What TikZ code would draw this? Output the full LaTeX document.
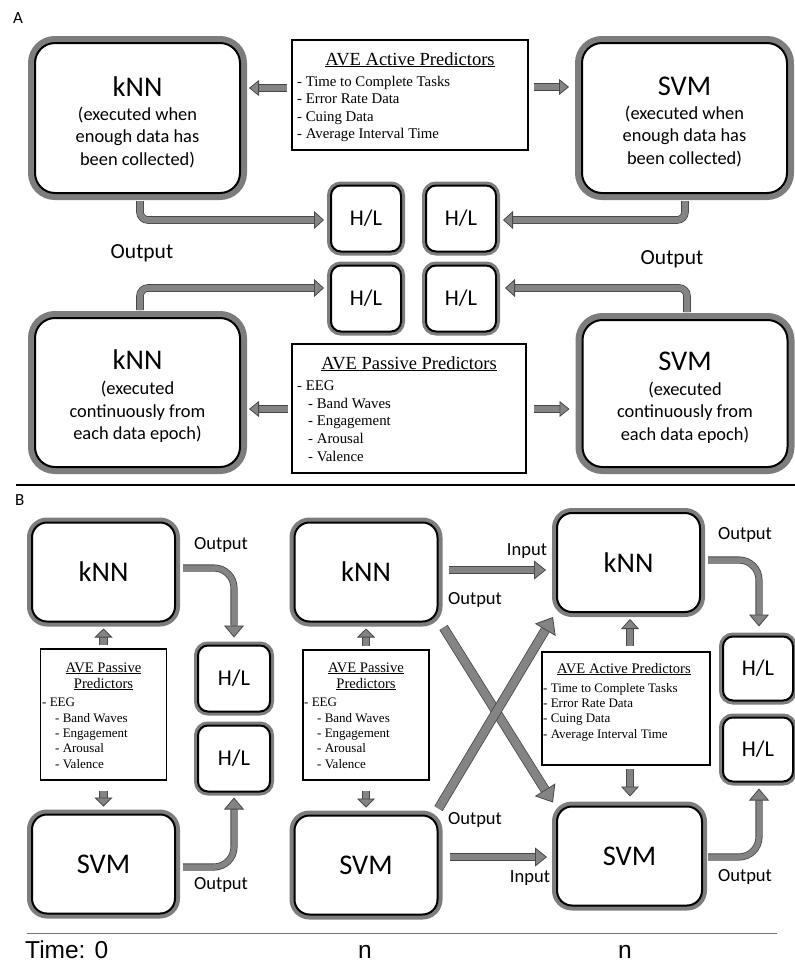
\documentclass[tikz,border=0pt]{standalone}
\usepackage{fontspec}
\setmainfont{Carlito}
\newfontfamily\timesf{Liberation Serif}
\newfontfamily\arialf{Liberation Sans}
\usetikzlibrary{arrows.meta,calc}
\definecolor{bandgray}{RGB}{125,125,125}
\definecolor{arrowfill}{RGB}{132,132,132}
\definecolor{arrowedge}{RGB}{72,72,72}
\begin{document}
\begin{tikzpicture}[x=1pt,y=-1pt,
  bigA/.style={draw=black, line width=2pt, fill=white, rounded corners=20pt,
    preaction={draw=bandgray, line width=14pt}, minimum width=205pt, minimum height=150pt, inner sep=0pt},
  bigB/.style={draw=black, line width=2pt, fill=white, rounded corners=15pt,
    preaction={draw=bandgray, line width=10pt}, minimum width=143pt, minimum height=99pt, inner sep=0pt,
    font=\fontsize{28.5}{30}\selectfont},
  hl/.style={draw=black, line width=2pt, fill=white, rounded corners=10pt,
    preaction={draw=bandgray, line width=8pt}, minimum width=70pt, minimum height=66pt, inner sep=0pt,
    font=\fontsize{22.5}{25}\selectfont},
  predbox/.style={draw=black, line width=1.5pt, fill=white, inner sep=0pt},
  bigtxt/.style={align=center, font=\fontsize{18.4}{22.5}\selectfont, inner sep=0pt},
  ptitleA/.style={font=\timesf\fontsize{18.5}{20}\selectfont, anchor=base, inner sep=0pt},
  pitemA/.style={font=\timesf\fontsize{14.8}{16}\selectfont, anchor=base west, inner sep=0pt},
  ptitleB/.style={font=\timesf\fontsize{14.6}{16}\selectfont, anchor=base, inner sep=0pt},
  pitemB/.style={font=\timesf\fontsize{13}{14}\selectfont, anchor=base west, inner sep=0pt},
  lblA/.style={font=\fontsize{21.5}{23}\selectfont, inner sep=0pt},
  lbl/.style={font=\fontsize{18.5}{20}\selectfont, inner sep=0pt},
  barrow/.style n args={3}{draw=arrowedge, double=arrowfill, line width=0.8pt, double distance=#1,
    -{Triangle[width=#2, length=#3, color=arrowedge, fill=arrowfill, line width=0.8pt]}}
]
\useasboundingbox (0,0) rectangle (795,962);

% ---------------- Part A ----------------
\node[font=\fontsize{17}{18}\selectfont, anchor=base west, inner sep=0pt] (labA) at (13,23) {A};

\node[bigA] (kA1) at (137.5,118) {};
\node[bigtxt] (kA1t) at ($(kA1.center)+(0,4)$) {{\fontsize{28.5}{28.5}\selectfont kNN}\\[1.5pt](executed when\\enough data has\\been collected)};
\node[bigA] (sA1) at (684.5,118) {};
\node[bigtxt] (sA1t) at ($(sA1.center)+(0,4)$) {{\fontsize{28.5}{28.5}\selectfont SVM}\\[1.5pt](executed when\\enough data has\\been collected)};

\node[predbox, minimum width=236pt, minimum height=110pt] (aA) at (410,95) {};
\node[ptitleA] (aAt) at (410,65) {\underline{AVE Active Predictors}};
\node[pitemA] (aA1) at (297,86) {- Time to Complete Tasks};
\node[pitemA] (aA2) at (297,103.5) {- Error Rate Data};
\node[pitemA] (aA3) at (297,121) {- Cuing Data};
\node[pitemA] (aA4) at (297,138.5) {- Average Interval Time};

\node[hl] (hlA1) at (366,218.5) {H/L};
\node[hl] (hlA2) at (461,218.5) {H/L};
\node[hl] (hlA3) at (366,298.5) {H/L};
\node[hl] (hlA4) at (461,298.5) {H/L};

\node[bigA, minimum height=149pt] (kA2) at (137.5,392.5) {};
\node[bigtxt] (kA2t) at ($(kA2.center)+(0,4)$) {{\fontsize{28.5}{28.5}\selectfont kNN}\\[2.5pt](executed\\continuously from\\each data epoch)};
\node[bigA, minimum height=147pt] (sA2) at (685,393.5) {};
\node[bigtxt] (sA2t) at ($(sA2.center)+(0,4)$) {{\fontsize{28.5}{28.5}\selectfont SVM}\\[2.5pt](executed\\continuously from\\each data epoch)};

\node[predbox, minimum width=234pt, minimum height=129pt] (pA) at (409,408.5) {};
\node[ptitleA] (pAt) at (409,369) {\underline{AVE Passive Predictors}};
\node[pitemA] (pA1) at (297,390) {- EEG};
\node[pitemA] (pA2) at (308,408) {- Band Waves};
\node[pitemA] (pA3) at (308,425.5) {- Engagement};
\node[pitemA] (pA4) at (308,443) {- Arousal};
\node[pitemA] (pA5) at (308,461) {- Valence};

\node[lblA] (oA1) at (142,253) {Output};
\node[lblA] (oA2) at (672,259) {Output};

\draw[barrow={5.5pt}{16pt}{10pt}] ($(aA.west)+(-4,-7)$) -- ($(kA1.east)+(8,-30)$);
\draw[barrow={5.5pt}{16pt}{10pt}] ($(aA.east)+(5,-8)$) -- ($(sA1.west)+(-12,-31)$);
\draw[barrow={5.5pt}{16pt}{10pt}] ($(pA.west)+(-3,0.5)$) -- ($(kA2.east)+(8,16.5)$);
\draw[barrow={5.5pt}{16pt}{10pt}] ($(pA.east)+(7,0.5)$) -- ($(sA2.west)+(-12,15.5)$);

\draw[barrow={6pt}{18pt}{10pt}, rounded corners=8pt] ($(kA1.south)+(2.5,7)$) |- ($(hlA1.west)+(-6,1.5)$);
\draw[barrow={6pt}{18pt}{10pt}, rounded corners=8pt] ($(sA1.south)+(0.5,7)$) |- ($(hlA2.east)+(6,1.5)$);
\draw[barrow={6pt}{18pt}{10pt}, rounded corners=8pt] ($(kA2.north)+(2.5,-7)$) |- ($(hlA3.west)+(-6,-10.5)$);
\draw[barrow={6pt}{18pt}{10pt}, rounded corners=8pt] ($(sA2.north)+(2,-7)$) |- ($(hlA4.east)+(8,-10.5)$);

\draw[line width=1.8pt] (16,485) -- (795,485);

% ---------------- Part B ----------------
\node[font=\fontsize{17}{18}\selectfont, anchor=base west, inner sep=0pt] (labB) at (15,505) {B};

\node[bigB] (kB1) at (103.5,572) {kNN};
\node[bigB] (sB1) at (103.5,864) {SVM};
\node[bigB] (kB2) at (366,572) {kNN};
\node[bigB] (sB2) at (366,865) {SVM};
\node[bigB] (kB3) at (628.5,562.5) {kNN};
\node[bigB, minimum width=145pt] (sB3) at (629.5,856) {SVM};

\node[hl, minimum width=72pt] (hB1a) at (234,678.5) {H/L};
\node[hl, minimum width=72pt] (hB1b) at (234,758.5) {H/L};
\node[hl, minimum height=64pt] (hB3a) at (758,668.5) {H/L};
\node[hl, minimum height=64pt] (hB3b) at (758,749.5) {H/L};

\node[predbox, minimum width=126pt, minimum height=131pt] (pB1) at (103.5,714.5) {};
\node[ptitleB] (pB1t1) at (103.5,672) {\underline{AVE Passive}};
\node[ptitleB] (pB1t2) at (103.5,688) {\underline{Predictors}};
\node[pitemB] (pB1a) at (42,706) {- EEG};
\node[pitemB] (pB1b) at (55,722) {- Band Waves};
\node[pitemB] (pB1c) at (55,737) {- Engagement};
\node[pitemB] (pB1d) at (55,752.5) {- Arousal};
\node[pitemB] (pB1e) at (55,768) {- Valence};

\node[predbox, minimum width=126pt, minimum height=130pt] (pB2) at (366,715) {};
\node[ptitleB] (pB2t1) at (366,672) {\underline{AVE Passive}};
\node[ptitleB] (pB2t2) at (366,688) {\underline{Predictors}};
\node[pitemB] (pB2a) at (304,706) {- EEG};
\node[pitemB] (pB2b) at (317,722) {- Band Waves};
\node[pitemB] (pB2c) at (317,737) {- Engagement};
\node[pitemB] (pB2d) at (317,752.5) {- Arousal};
\node[pitemB] (pB2e) at (317,768) {- Valence};

\node[predbox, minimum width=168pt, minimum height=113pt] (aB3) at (626,708.5) {};
\node[ptitleB] (aB3t) at (624,673) {\underline{AVE Active Predictors}};
\node[pitemB] (aB3a) at (543,692) {- Time to Complete Tasks};
\node[pitemB] (aB3b) at (543,707) {- Error Rate Data};
\node[pitemB] (aB3c) at (543,722.5) {- Cuing Data};
\node[pitemB] (aB3d) at (543,738) {- Average Interval Time};

\node[lbl] (oB1) at (221,545) {Output};
\node[lbl] (oB2) at (221,885) {Output};
\node[lbl] (iB1) at (527,551) {Input};
\node[lbl] (oB3) at (475,600) {Output};
\node[lbl] (oB4) at (475,820) {Output};
\node[lbl] (iB2) at (530,878) {Input};
\node[lbl] (oB5) at (745,535) {Output};
\node[lbl] (oB6) at (745,877) {Output};

% small vertical arrows
\draw[barrow={6.5pt}{18pt}{9pt}] ($(pB1.north)+(0,-3)$) -- ($(kB1.south)+(0,6)$);
\draw[barrow={6.5pt}{18pt}{9pt}] ($(pB1.south)+(0,10)$) -- ($(sB1.north)+(0,-7)$);
\draw[barrow={6.5pt}{18pt}{9pt}] ($(pB2.north)+(0,-3)$) -- ($(kB2.south)+(0,6)$);
\draw[barrow={6.5pt}{18pt}{9pt}] ($(pB2.south)+(0,10)$) -- ($(sB2.north)+(0,-7)$);
\draw[barrow={6.5pt}{18pt}{10pt}] ($(aB3.north -| kB3.south)+(1.5,-5)$) -- ($(kB3.south)+(1.5,6)$);
\draw[barrow={6.5pt}{18pt}{10pt}] ($(aB3.south -| sB3.north)+(0.5,3)$) -- ($(sB3.north)+(0.5,-9)$);

% curved outputs
\draw[barrow={5.5pt}{20pt}{12pt}, rounded corners=20pt] ($(kB1.east)+(7,-4)$) -| ($(hB1a.north)+(0,-7)$);
\draw[barrow={5.5pt}{20pt}{12pt}, rounded corners=20pt] ($(sB1.east)+(7,3)$) -| ($(hB1b.south)+(0,5)$);
\draw[barrow={5.5pt}{20pt}{12pt}, rounded corners=20pt] ($(kB3.east)+(7,-2.5)$) -| ($(hB3a.north)+(1,-9)$);
\draw[barrow={5.5pt}{20pt}{12pt}, rounded corners=20pt] ($(sB3.east)+(5,1)$) -| ($(hB3b.south)+(1,6)$);

% inputs
\draw[barrow={6pt}{19pt}{12pt}] ($(kB2.east)+(10,-2)$) -- ($(kB3.west)+(-10,7.5)$);
\draw[barrow={6pt}{19pt}{12pt}] ($(sB2.east)+(11,-8)$) -- ($(sB3.west)+(-9,1)$);

% diagonals
\draw[barrow={8pt}{24pt}{15pt}] ($(kB2.south east)+(5,5)$) -- ($(sB3.north west)+(-3,-3)$);
\draw[barrow={8pt}{24pt}{15pt}] ($(sB2.north east)+(0,-6)$) -- ($(kB3.south west)+(-3,4)$);

% timeline
\draw[line width=0.8pt, black!55] (27,933) -- (777,933);
\node[anchor=base west, font=\arialf\fontsize{24.5}{26}\selectfont, inner sep=0pt] (t0) at (25,958) {Time: 0};
\node[anchor=base, font=\arialf\fontsize{24.5}{26}\selectfont, inner sep=0pt] (t1) at (365,958) {n};
\node[anchor=base, font=\arialf\fontsize{24.5}{26}\selectfont, inner sep=0pt] (t2) at (625,958) {n};
\end{tikzpicture}
\end{document}
